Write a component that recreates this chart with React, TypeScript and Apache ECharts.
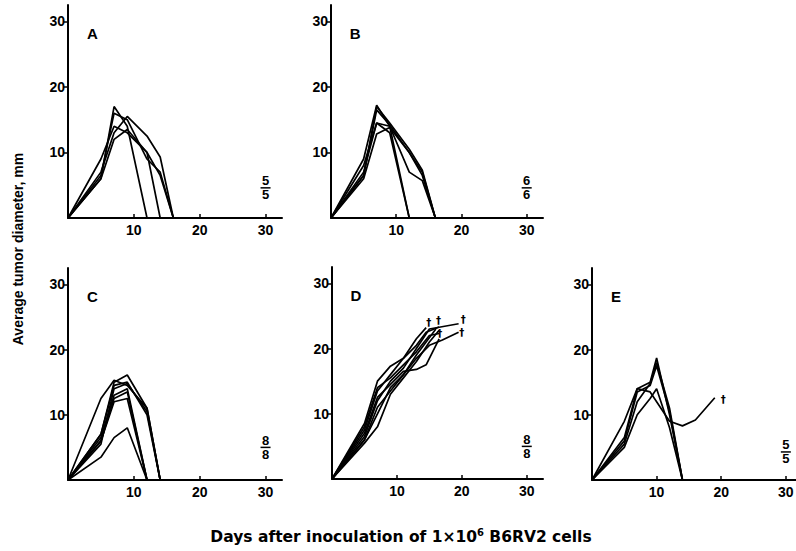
import React, { useEffect, useRef } from "react";
import * as echarts from "echarts";

const xTicks = [10, 20, 30];
const yTicks = [10, 20, 30];
const panelLetters = ["A", "B", "C", "D", "E"];
const fractionNum = ["5", "6", "8", "8", "5"];
const fractionDen = ["5", "6", "8", "8", "5"];
const fractionY = [4.6, 4.6, 5.0, 5.0, 4.3];

const panelA = [
  [[0, 0], [5, 6], [7, 17], [9, 14], [12, 0]],
  [[0, 0], [5, 9], [7, 14], [9, 13], [12, 10], [14, 0]],
  [[0, 0], [5, 7], [7, 13], [9, 15.5], [12, 12.5], [14, 9.3], [16, 0]],
  [[0, 0], [5, 6.5], [7, 16], [9, 15], [12, 9], [14, 7], [16, 0]],
  [[0, 0], [5, 6], [7, 12], [9, 13.5], [12, 10], [14, 6.5], [16, 0]],
];
const panelB = [
  [[0, 0], [5, 9], [7, 17.2], [9, 14], [12, 0]],
  [[0, 0], [5, 6.5], [7, 17], [9, 14.5], [12, 10.5], [14, 7.3], [16, 0]],
  [[0, 0], [5, 7], [7, 14.5], [9, 14], [12, 7], [14, 5.7], [16, 0]],
  [[0, 0], [5, 6], [7, 12.8], [9, 13.8], [12, 10], [14, 7], [16, 0]],
  [[0, 0], [5, 8], [7, 14.5], [9, 13], [12, 0]],
  [[0, 0], [5, 6.5], [7, 16.5], [9, 14.2], [12, 10], [14, 6.5], [16, 0]],
];
const panelC = [
  [[0, 0], [5, 12.5], [7, 15.3], [9, 14.5], [12, 11], [14, 0]],
  [[0, 0], [5, 3.5], [7, 6.5], [9, 8], [12, 0]],
  [[0, 0], [5, 7], [7, 15], [9, 16.1], [12, 11], [14, 0]],
  [[0, 0], [5, 6], [7, 12], [9, 12.5], [12, 0]],
  [[0, 0], [5, 6.5], [7, 13], [9, 14], [12, 0]],
  [[0, 0], [5, 7], [7, 14.5], [9, 15], [12, 10], [14, 0]],
  [[0, 0], [5, 6], [7, 12.5], [9, 13.5], [12, 0]],
  [[0, 0], [5, 5.5], [7, 14], [9, 14.8], [12, 10.5], [14, 0]],
];
const panelD = [
  [[0, 0], [5, 8.5], [7, 15], [9, 17.3], [11, 18.5], [13, 21.5], [14.5, 23.2]],
  [[0, 0], [5, 7.5], [7, 13.5], [9, 16], [11, 18.5], [13, 20.5], [14.5, 22.5], [16.5, 23.3]],
  [[0, 0], [5, 6.5], [7, 12], [9, 15], [11, 17], [13, 20], [15, 23], [19.5, 23.8]],
  [[0, 0], [5, 6], [7, 10], [9, 14], [11, 16], [13, 18.5], [15, 20.5], [17, 21.3], [19.5, 22.5]],
  [[0, 0], [5, 7], [7, 12.5], [9, 14.5], [11, 16.5], [13, 16.8], [14.5, 17.5], [15.5, 19.5], [16.5, 21.5]],
  [[0, 0], [5, 8], [7, 14], [9, 15.5], [11, 17.5], [13, 19.5], [15, 22], [16.5, 22.3]],
  [[0, 0], [5, 5.5], [7, 8], [9, 13], [11, 15.5], [13, 18], [15, 21], [16.5, 22.8]],
  [[0, 0], [5, 6], [7, 11], [9, 13.5], [11, 16], [13, 19], [14.5, 21], [16, 23]],
];
const panelE = [
  [[0, 0], [5, 9], [7, 14], [9, 15], [10, 18.7], [12, 10], [14, 0]],
  [[0, 0], [5, 6], [7, 13.5], [9, 14.5], [10, 17.5], [12, 10.5], [14, 0]],
  [[0, 0], [5, 5.5], [7, 12], [9, 14.8], [10, 18], [12, 11], [14, 0]],
  [[0, 0], [5, 6.5], [7, 14], [9, 13.5], [12, 9], [14, 8.3], [16, 9.2], [19, 12.6]],
  [[0, 0], [5, 5], [7, 10], [9, 12.5], [10, 14], [12, 8], [14, 0]],
];
const daggersD = [[14.9, 24], [16.4, 24.3], [20.2, 24.5], [20.0, 22.5], [16.6, 22.3]];
const daggersE = [[20.3, 12.4]];

const panels = [panelA, panelB, panelC, panelD, panelE];
const panelDaggers = [[], [], [], daggersD, daggersE];

const FONT = "'Liberation Sans', Arial, sans-serif";
const WIDE = "'DejaVu Sans', 'Liberation Sans', sans-serif";
const AX_MAX = 32.5;
const LETTER_POS = [3.7, 28.2];

const GRIDS = [
  { left: 68, top: 5, width: 214, height: 213 },
  { left: 331, top: 5, width: 212, height: 213 },
  { left: 68, top: 268, width: 214, height: 212 },
  { left: 332, top: 267, width: 211, height: 212 },
  { left: 592, top: 268, width: 210, height: 212 },
];

export default function App() {
  const ref = useRef<HTMLDivElement>(null);
  useEffect(() => {
    if (!ref.current) return;
    const chart = echarts.init(ref.current, null, { renderer: "svg" });
    const grid: any[] = [];
    const xAxis: any[] = [];
    const yAxis: any[] = [];
    const series: any[] = [];
    const fmt = (v: number) => (v > 0 && v % 10 === 0 ? String(v) : "");
    const textLabel = (formatter: any, extra: any = {}) => ({
      show: true,
      position: [0, 0],
      align: "center",
      verticalAlign: "middle",
      formatter,
      color: "#000",
      opacity: 1,
      textBorderWidth: 0,
      fontFamily: FONT,
      fontWeight: "bold",
      ...extra,
    });
    GRIDS.forEach((g, i) => {
      grid.push({ ...g, containLabel: false, outerBoundsMode: "none" });
      xAxis.push({
        type: "value",
        gridIndex: i,
        min: 0,
        max: AX_MAX,
        interval: 10,
        axisLine: { show: true, onZero: false, lineStyle: { color: "#000", width: 2 } },
        axisTick: { show: true, inside: true, length: 4, customValues: xTicks, lineStyle: { color: "#000", width: 1.5 } },
        axisLabel: {
          customValues: xTicks,
          formatter: fmt,
          color: "#000",
          fontSize: 14,
          fontWeight: "bold",
          fontFamily: FONT,
          margin: 5,
        },
        splitLine: { show: false },
      });
      yAxis.push({
        type: "value",
        gridIndex: i,
        min: 0,
        max: AX_MAX,
        interval: 10,
        axisLine: { show: true, onZero: false, lineStyle: { color: "#000", width: 2 } },
        axisTick: { show: true, inside: false, length: 4, customValues: yTicks, lineStyle: { color: "#000", width: 1.5 } },
        axisLabel: {
          customValues: yTicks,
          formatter: fmt,
          color: "#000",
          fontSize: 14,
          fontWeight: "bold",
          fontFamily: FONT,
          margin: 3,
        },
        splitLine: { show: false },
      });
      panels[i].forEach((line) => {
        series.push({
          type: "line",
          xAxisIndex: i,
          yAxisIndex: i,
          data: line,
          showSymbol: false,
          symbol: "none",
          lineStyle: { color: "#000", width: 1.7 },
          emphasis: { disabled: true },
          z: 3,
        });
      });
      // fraction annotation
      series.push({
        type: "scatter",
        xAxisIndex: i,
        yAxisIndex: i,
        symbol: "rect",
        symbolSize: [10, 1.5],
        itemStyle: { color: "#000", opacity: 1 },
        emphasis: { disabled: true },
        data: [[30, fractionY[i]]],
        label: {
          show: true,
          position: [5, 0.75],
          align: "center",
          verticalAlign: "middle",
          formatter: `{n|${fractionNum[i]}}\n{n|${fractionDen[i]}}`,
          rich: {
            n: { fontSize: 13, fontWeight: "bold", fontFamily: FONT, color: "#000", lineHeight: 14, opacity: 1 },
          },
        },
        z: 4,
      });
      // panel letter
      series.push({
        type: "scatter",
        xAxisIndex: i,
        yAxisIndex: i,
        symbol: "circle",
        symbolSize: 0,
        itemStyle: { color: "#000", opacity: 1 },
        emphasis: { disabled: true },
        data: [LETTER_POS],
        label: textLabel(panelLetters[i], { fontSize: 15 }),
        z: 4,
      });
      if (panelDaggers[i].length) {
        series.push({
          type: "scatter",
          xAxisIndex: i,
          yAxisIndex: i,
          symbol: "circle",
          symbolSize: 0,
          itemStyle: { color: "#000", opacity: 1 },
          emphasis: { disabled: true },
          data: panelDaggers[i],
          label: textLabel("†", { fontSize: 10, lineHeight: 8, fontFamily: WIDE }),
          labelLayout: { hideOverlap: false },
          z: 4,
        });
      }
    });

    chart.setOption({
      animation: false,
      backgroundColor: "#fff",
      grid,
      xAxis,
      yAxis,
      series,
      graphic: [
        {
          type: "text",
          x: 18,
          y: 249,
          rotation: Math.PI / 2,
          style: {
            text: "Average tumor diameter, mm",
            fontSize: 14,
            fontWeight: "bold",
            fontFamily: FONT,
            fill: "#000",
            textAlign: "center",
            textVerticalAlign: "middle",
          },
        },
        {
          type: "text",
          x: 401,
          y: 537,
          style: {
            text: "{a|Days after inoculation of 1×10}{s|6}{a| B6RV2 cells}",
            rich: {
              a: { fontSize: 15.5, fontWeight: "bold", fontFamily: WIDE, fill: "#000", lineHeight: 20 },
              s: { fontSize: 10, fontWeight: "bold", fontFamily: WIDE, fill: "#000", lineHeight: 20, verticalAlign: "top" },
            },
            textAlign: "center",
            textVerticalAlign: "middle",
          },
        },
      ],
    });
    return () => chart.dispose();
  }, []);
  return (
    <div
      ref={ref}
      style={{ position: "fixed", left: 0, top: 0, width: 796, height: 551, background: "#fff" }}
    />
  );
}
